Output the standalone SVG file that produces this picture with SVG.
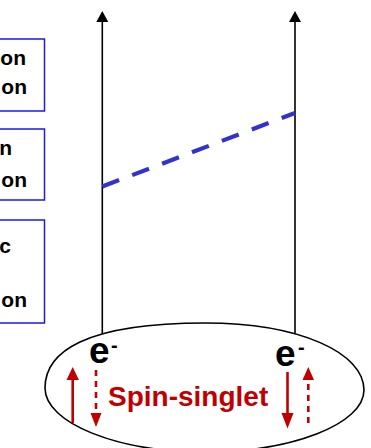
<svg xmlns="http://www.w3.org/2000/svg" width="371" height="448" viewBox="0 0 371 448">
<style>
.box{fill:#fff;stroke:#1a1aee;stroke-width:1.5}
.bt{font-family:"Liberation Sans",Arial,sans-serif;font-weight:bold;font-size:21px;fill:#000;text-anchor:end}
.wl{stroke:#000;stroke-width:1.6;fill:none}
.el{font-family:"Liberation Sans",Arial,sans-serif;font-weight:bold;font-size:37px;fill:#000}
.sup{font-family:"Liberation Sans",Arial,sans-serif;font-weight:bold;font-size:20px;fill:#000}
.red{stroke:#c00000;stroke-width:2.6;fill:none}
.rd{stroke:#c00000;stroke-width:2.6;fill:none;stroke-dasharray:6 5}
.rh{fill:#c00000}
.sp{font-family:"Liberation Sans",Arial,sans-serif;font-weight:bold;font-size:28px;fill:#c00000}
</style>
<rect width="371" height="448" fill="#fff"/>
<g id="box1">
<rect class="box" x="-100" y="39" width="144.5" height="72"/>
<text class="bt" x="26" y="65">on</text>
<text class="bt" x="27" y="94">on</text>
</g>
<g id="box2">
<rect class="box" x="-100" y="129" width="144.5" height="71"/>
<text class="bt" x="12" y="155">n</text>
<text class="bt" x="27" y="187">on</text>
</g>
<g id="box3">
<rect class="box" x="-100" y="220" width="144.5" height="103"/>
<text class="bt" x="11" y="253">c</text>
<text class="bt" x="27" y="307">on</text>
</g>
<g id="connectors">
<line class="wl" x1="102.3" y1="334" x2="102.3" y2="13"/>
<path d="M96.3,22 L102.3,11 L108.3,22 Z" fill="#000"/>
<line class="wl" x1="295" y1="334" x2="295" y2="13"/>
<path d="M289,22 L295,11 L301,22 Z" fill="#000"/>
<line x1="102.3" y1="186.5" x2="295" y2="113" stroke="#3333cc" stroke-width="4.2" stroke-dasharray="18 14"/>
</g>
<g id="pair">
<path d="M45,388 C45,352 85,323 205,323 C300,323 364,353 364,390 C364,424 292,452 205,452 C117,452 45,423 45,388 Z" fill="none" stroke="#000" stroke-width="1.6"/>
<text class="el" x="89" y="363">e</text>
<text class="sup" x="111" y="352">-</text>
<text class="el" x="275" y="366">e</text>
<text class="sup" x="298" y="354">-</text>
<line class="red" x1="72.7" y1="423" x2="72.7" y2="378"/>
<path class="rh" d="M66.5,380 L72.7,367 L79,380 Z"/>
<line class="rd" x1="96" y1="370" x2="96" y2="414"/>
<path class="rh" d="M90.5,413 L96,427 L101.5,413 Z"/>
<line class="red" x1="287.5" y1="372" x2="287.5" y2="415"/>
<path class="rh" d="M281.5,413 L287.5,428.5 L293.5,413 Z"/>
<line class="rd" x1="308.3" y1="423" x2="308.3" y2="379"/>
<path class="rh" d="M302.5,380 L308.3,367 L314,380 Z"/>
<text class="sp" x="108" y="406">Spin-singlet</text>
</g>
</svg>
